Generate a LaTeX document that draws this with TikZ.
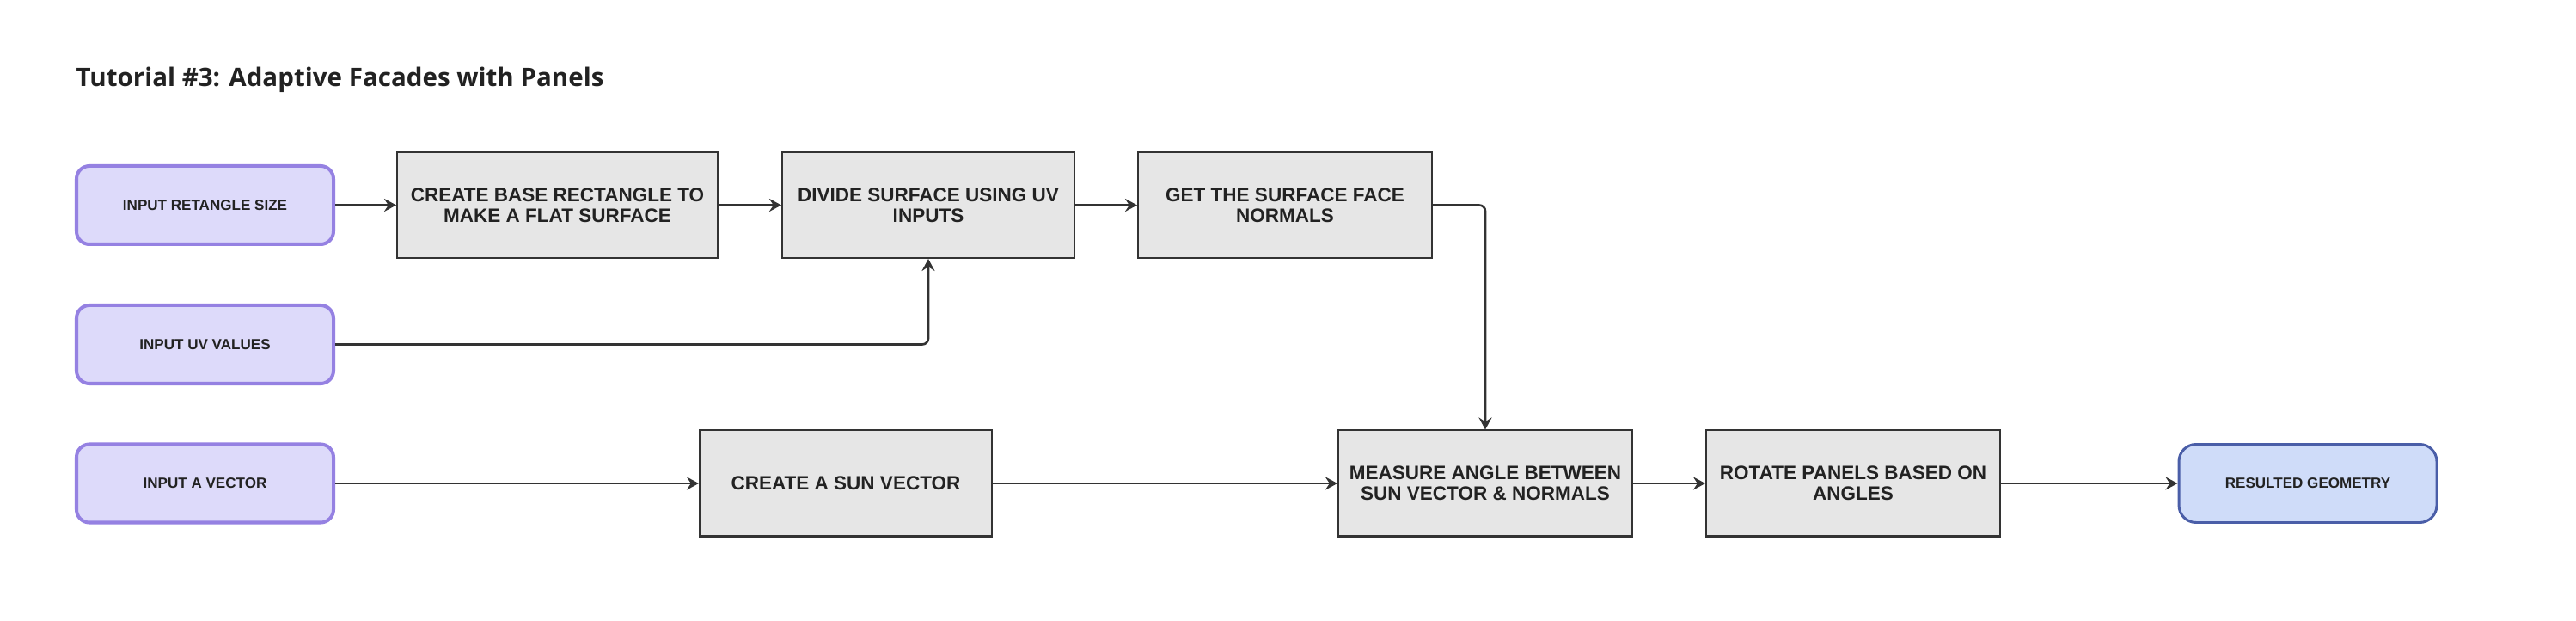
\documentclass[tikz,border=0pt]{standalone}
\usepackage{fontspec}
\setmainfont{Liberation Sans}
\newfontfamily\titlefont{Open Sans}
\usetikzlibrary{arrows.meta,positioning}

\newlength{\du}
\setlength{\du}{0.01cm}

\definecolor{linecolor}{RGB}{51,51,51}
\definecolor{textcolor}{RGB}{34,34,34}
\definecolor{stepfill}{RGB}{230,230,230}
\definecolor{infill}{RGB}{221,218,250}
\definecolor{inborder}{RGB}{149,129,226}
\definecolor{outfill}{RGB}{207,220,249}
\definecolor{outborder}{RGB}{74,94,168}

\tikzset{
  stepbox/.style={draw=linecolor, line width=0.57pt, fill=stepfill,
    minimum width=340\du, minimum height=123\du, inner sep=0pt,
    align=center, text=textcolor,
    font=\bfseries\fontsize{6.4}{6.9}\selectfont},
  inbox/.style={draw=inborder, line width=1.14pt, fill=infill,
    rounded corners=15\du, minimum width=299\du, minimum height=91\du,
    inner sep=0pt, align=center, text=textcolor,
    font=\bfseries\fontsize{4.85}{5.6}\selectfont},
  outbox/.style={inbox, draw=outborder, fill=outfill, line width=0.85pt,
    rounded corners=20\du, minimum width=300\du},
  flow/.style={draw=linecolor, line width=0.75pt, rounded corners=2pt,
    -{Stealth[length=4pt,width=4.3pt,inset=1.4pt]}}
}

\begin{document}
\begin{tikzpicture}
\pgftransformxscale{1.000000}
\pgftransformyscale{-1.000000}
\useasboundingbox (0\du,0\du) rectangle (2997\du,722\du);
% title
\node[anchor=base west, inner sep=0pt, text=textcolor,
  font=\titlefont\bfseries\fontsize{8.4}{9.5}\selectfont]
  (title) at (88\du,101\du) {Tutorial \#3: Adaptive Facades with Panels};
% inputs
\node[inbox] (inrect) at (238.5\du,238.5\du) {INPUT RETANGLE SIZE};
\node[inbox] (inuv) at (238.5\du,400.5\du) {INPUT UV VALUES};
\node[inbox] (invec) at (238.5\du,562\du) {INPUT A VECTOR};
% steps
\node[stepbox, minimum width=373\du] (baserect) at (648.5\du,238.5\du) {CREATE BASE RECTANGLE TO\\MAKE A FLAT SURFACE};
\node[stepbox] (divide) at (1080\du,238.5\du) {DIVIDE SURFACE USING UV\\INPUTS};
\node[stepbox, minimum width=342\du] (normals) at (1495\du,238.5\du) {GET THE SURFACE FACE\\NORMALS};
\node[stepbox] (sunvec) at (984\du,562\du) {CREATE A SUN VECTOR};
\node[stepbox, minimum width=342\du] (measure) at (1728\du,562\du) {MEASURE ANGLE BETWEEN\\SUN VECTOR \& NORMALS};
\node[stepbox, minimum width=342\du] (rotate) at (2156\du,562\du) {ROTATE PANELS BASED ON\\ANGLES};
% output
\node[outbox] (result) at (2685\du,562\du) {RESULTED GEOMETRY};
% connectors
\draw[flow] (inrect) -- (baserect);
\draw[flow] (baserect) -- (divide);
\draw[flow] (divide) -- (normals);
\draw[flow] (normals.east) -| (measure.north);
\draw[flow] (inuv.east) -| (divide.south);
\draw[flow] (invec) -- (sunvec);
\draw[flow] (sunvec) -- (measure);
\draw[flow] (measure) -- (rotate);
\draw[flow] (rotate) -- (result);
\end{tikzpicture}
\end{document}
